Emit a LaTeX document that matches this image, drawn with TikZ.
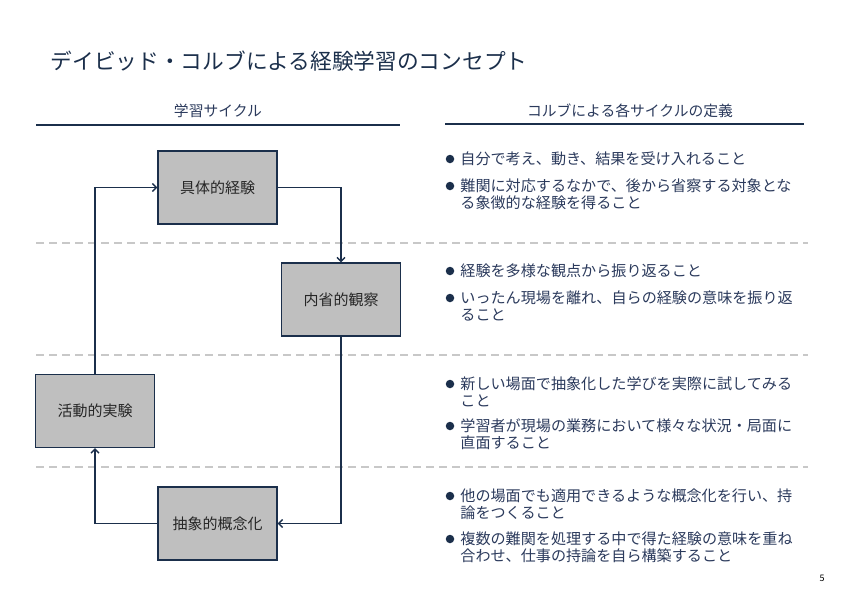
\documentclass[tikz,border=0pt]{standalone}
\usepackage{fontspec}
\setmainfont{Noto Sans CJK JP}
\usepackage{xcolor}
\usetikzlibrary{arrows.meta}
\definecolor{navy}{HTML}{1B2F4B}
\definecolor{navytext}{HTML}{2B3A5C}
\definecolor{boxgray}{HTML}{BFBFBF}
\definecolor{sepgray}{HTML}{C8C8C8}

\begin{document}
\begin{tikzpicture}[x=1pt, y=-1pt, >={Straight Barb[length=4pt,width=8pt]}, thick]
\tikzstyle{block} = [rectangle, draw=navy, line width=1.4pt, fill=boxgray, minimum height=73pt, minimum width=119pt, text centered, font=\fontsize{15}{16}\selectfont, text=black!85]
\tikzstyle{arrow} = [->, draw=navy, line width=1.3pt]
\tikzstyle{head} = [font=\fontsize{14.8}{16}\selectfont, text=navytext]
\tikzstyle{item} = [anchor=north west, inner sep=0pt, align=left, font=\fontsize{15.1}{16.5}\selectfont, text=navytext]
\tikzstyle{dot} = [circle, fill=navy, inner sep=0pt, minimum size=8.5pt]

\useasboundingbox (0,0) rectangle (850,590);

% title and headers
\node[anchor=west, font=\fontsize{21.7}{24}\selectfont, text=navy] (title) at (47,61) {デイビッド・コルブによる経験学習のコンセプト};
\node[head] (cyclehead) at (218,111) {学習サイクル};
\node[head] (defhead) at (630,111) {コルブによる各サイクルの定義};
\draw[navy, line width=1.3pt] (36,125) -- (400,125);
\draw[navy, line width=1.3pt] (445,124) -- (804,124);

% separators
\foreach \y in {243,355,467}
  \draw[sepgray, line width=1.3pt, dash pattern=on 8pt off 5pt] (36,\y) -- (808,\y);

% cycle
\node[block] (exp) at (217.5,187.5) {具体的経験};
\node[block] (obs) at (341,299.5) {内省的観察};
\node[block] (act) at (95,411) {活動的実験};
\node[block] (abs) at (217.5,523.5) {抽象的概念化};

\draw[arrow] (exp.east) -| (obs.north);
\draw[arrow] (obs.south) |- (abs.east);
\draw[arrow] (abs.west) -| (act.south);
\draw[arrow] (act.north) |- (exp.west);

% definitions
\node[dot] (b1) at (450,159) {};
\node[item] (t1) at (460,151.5) {自分で考え、動き、結果を受け入れること};
\node[dot] (b2) at (450,186) {};
\node[item] (t2) at (460,178.5) {難関に対応するなかで、後から省察する対象とな\\る象徴的な経験を得ること};

\node[dot] (b3) at (450,271) {};
\node[item] (t3) at (460,263.5) {経験を多様な観点から振り返ること};
\node[dot] (b4) at (450,298) {};
\node[item] (t4) at (460,290.5) {いったん現場を離れ、自らの経験の意味を振り返\\ること};

\node[dot] (b5) at (450,384) {};
\node[item] (t5) at (460,376.5) {新しい場面で抽象化した学びを実際に試してみる\\こと};
\node[dot] (b6) at (450,426) {};
\node[item] (t6) at (460,418.5) {学習者が現場の業務において様々な状況・局面に\\直面すること};

\node[dot] (b7) at (450,496) {};
\node[item] (t7) at (460,488.5) {他の場面でも適用できるような概念化を行い、持\\論をつくること};
\node[dot] (b8) at (450,539) {};
\node[item] (t8) at (460,531.5) {複数の難関を処理する中で得た経験の意味を重ね\\合わせ、仕事の持論を自ら構築すること};

\node[font=\fontsize{9}{10}\selectfont] (page) at (822,578) {5};
\end{tikzpicture}
\end{document}
